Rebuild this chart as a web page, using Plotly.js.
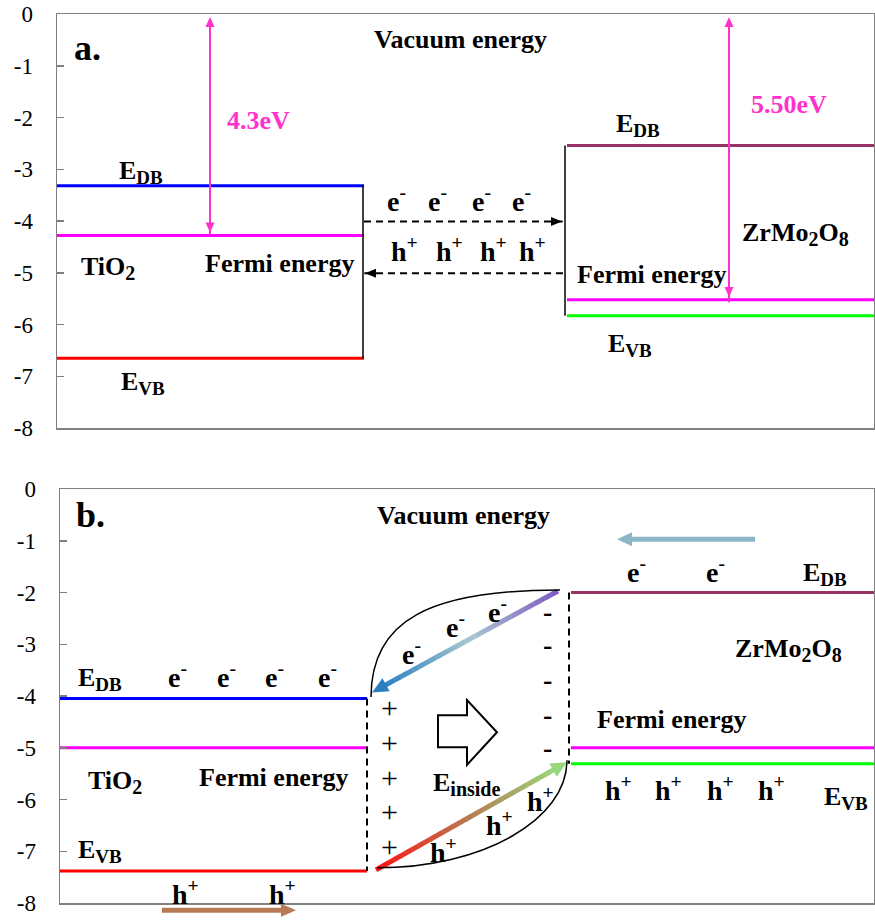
<!DOCTYPE html>
<html><head><meta charset="utf-8">
<script src="https://cdn.plot.ly/plotly-3.0.1.min.js"></script>
<style>body{margin:0;padding:0;background:#fff}#chart{width:875px;height:924px}</style>
</head><body><div id="chart"></div>
<script>
// ---------------- data ----------------
const energyTicks = [0, -1, -2, -3, -4, -5, -6, -7, -8];
const energyTickLabels = ["0", "-1", "-2", "-3", "-4", "-5", "-6", "-7", "-8"];
const levelLabels = ["E_DB", "Fermi energy", "E_VB"];
// panel a: before contact
const tio2LevelsA = [-3.32, -4.28, -6.65];
const zrmoLevelsA = [-2.54, -5.52, -5.83];
// panel b: after contact
const tio2LevelsB = [-4.05, -5.0, -7.38];
const zrmoLevelsB = [-2.0, -5.0, -5.31];
const tio2Colors = ["#0000ff", "#ff00ff", "#ff0000"];
const zrmoColors = ["#993366", "#ff00ff", "#00ff00"];
const workFunctionLabels = ["4.3eV", "5.50eV"];
// horizontal extents (x units) of each material block
const tio2SpanA = [57, 364], zrmoSpanA = [567, 874];
const tio2SpanB = [60, 367], zrmoSpanB = [571, 874];
const junctionXA = [363, 565];
const junctionXB = [367, 569];
// carrier label positions
const eXA = [396, 437, 481, 521], hXA = [404, 449, 493, 532];
const eXB_left = [177, 226, 274, 327], eXB_right = [636, 715];
const hXB_left = [185, 282], hXB_right = [618, 668, 720, 771];
const plusY = [-4.23, -4.89, -5.57, -6.23, -6.90];
const minusY = [-2.36, -3.01, -3.69, -4.35, -5.00];

// ---------------- geometry ----------------
const PW = 874, PH = 924;
const FONT = "Liberation Serif";
const P = {
  a: {xa: 'x', ya: 'y', dom: [(PH - 428) / PH, (PH - 14) / PH], x0: 57},
  b: {xa: 'x2', ya: 'y2', dom: [(PH - 903) / PH, (PH - 489) / PH], x0: 60}
};
function toPx(p, x, e) {
  const top = (1 - p.dom[1]) * PH, k = (p.dom[1] - p.dom[0]) * PH / 8;
  return [x, top - e * k];
}
function toPaper(q) { return [q[0] / PW, 1 - q[1] / PH]; }
function hex(c) { return [1, 3, 5].map(i => parseInt(c.substr(i, 2), 16)); }
function mix(stops, t) {
  if (stops.length === 1) return stops[0];
  const s = t * (stops.length - 1), i = Math.min(Math.floor(s), stops.length - 2), f = s - i;
  const a = hex(stops[i]), b = hex(stops[i + 1]);
  return 'rgb(' + a.map((v, j) => Math.round(v + (b[j] - v) * f)).join(',') + ')';
}
const shapes = [];
function head(tipPx, ux, uy, len, wid, color) {
  const bx = tipPx[0] - ux * len, by = tipPx[1] - uy * len, nx = -uy, ny = ux;
  const pts = [tipPx, [bx + nx * wid / 2, by + ny * wid / 2], [bx - nx * wid / 2, by - ny * wid / 2]].map(toPaper);
  shapes.push({type: 'path', xref: 'paper', yref: 'paper',
    path: 'M ' + pts.map(q => q[0] + ',' + q[1]).join(' L ') + ' Z',
    fillcolor: color, line: {width: 0}});
}
function arrow(p, tail, tip, o) {
  const a = toPx(p, tail[0], tail[1]), b = toPx(p, tip[0], tip[1]);
  const dx = b[0] - a[0], dy = b[1] - a[1], L = Math.hypot(dx, dy), ux = dx / L, uy = dy / L;
  let s = a.slice();
  if (o.double) { s = [a[0] + ux * o.len * 0.8, a[1] + uy * o.len * 0.8]; head(a, -ux, -uy, o.len, o.wid, o.colors[0]); }
  const e = [b[0] - ux * o.len * 0.8, b[1] - uy * o.len * 0.8];
  const N = o.colors.length > 1 ? 30 : 1;
  for (let i = 0; i < N; i++) {
    const p0 = toPaper([s[0] + (e[0] - s[0]) * i / N, s[1] + (e[1] - s[1]) * i / N]);
    const p1 = toPaper([s[0] + (e[0] - s[0]) * (i + 1.05) / N, s[1] + (e[1] - s[1]) * (i + 1.05) / N]);
    shapes.push({type: 'line', xref: 'paper', yref: 'paper', x0: p0[0], y0: p0[1], x1: p1[0], y1: p1[1],
      line: {color: mix(o.colors, (i + 0.5) / N), width: o.width, dash: o.dash || 'solid'}});
  }
  head(b, ux, uy, o.len, o.wid, o.colors[o.colors.length - 1]);
}

// ---------------- traces (energy levels) ----------------
const traces = [];
function levels(p, span, vals, cols) {
  vals.forEach((v, i) => traces.push({type: 'scatter', mode: 'lines', xaxis: p.xa, yaxis: p.ya,
    x: span, y: [v, v], line: {color: cols[i], width: 3}, hoverinfo: 'skip', showlegend: false}));
}
levels(P.a, tio2SpanA, tio2LevelsA, tio2Colors);
levels(P.a, zrmoSpanA, zrmoLevelsA, zrmoColors);
levels(P.b, tio2SpanB, tio2LevelsB, tio2Colors);
levels(P.b, zrmoSpanB, zrmoLevelsB, zrmoColors);
function vline(p, x, y0, y1, dash, w) {
  traces.push({type: 'scatter', mode: 'lines', xaxis: p.xa, yaxis: p.ya, x: [x, x], y: [y0, y1],
    line: {color: '#000', width: w, dash: dash}, hoverinfo: 'skip', showlegend: false});
}
vline(P.a, junctionXA[0], tio2LevelsA[0], tio2LevelsA[2], 'solid', 1.5);
vline(P.a, junctionXA[1], zrmoLevelsA[0], zrmoLevelsA[2], 'solid', 1.5);
vline(P.b, junctionXB[0], tio2LevelsB[0], tio2LevelsB[2], '7px,5px', 2);
vline(P.b, junctionXB[1], zrmoLevelsB[0], zrmoLevelsB[2], '7px,5px', 2);

// ---------------- arrows ----------------
const pink = '#ff33cc';
arrow(P.a, [210, -0.06], [210, -4.22], {colors: [pink], width: 2, len: 10, wid: 9, double: true});
arrow(P.a, [729, -0.06], [729, -5.47], {colors: [pink], width: 2, len: 10, wid: 9, double: true});
arrow(P.a, [364, -4.01], [562, -4.01], {colors: ['#000000'], width: 2, len: 11, wid: 9, dash: '7px,5px'});
arrow(P.a, [563, -5.01], [365, -5.01], {colors: ['#000000'], width: 2, len: 11, wid: 9, dash: '7px,5px'});
arrow(P.b, [558, -1.97], [372, -3.93], {colors: ['#7e57c2', '#a9c6cf', '#2a7fc3'], width: 5, len: 16, wid: 15});
arrow(P.b, [376, -7.36], [567, -5.28], {colors: ['#ff1010', '#b8784e', '#98d67c'], width: 5, len: 16, wid: 15});
arrow(P.b, [755, -0.97], [617, -0.97], {colors: ['#8cb6c8'], width: 5, len: 15, wid: 14});
arrow(P.b, [162, -8.14], [296, -8.14], {colors: ['#b67b56'], width: 5, len: 15, wid: 13});

// curves of band bending (panel b)
shapes.push({type: 'path', xref: 'x2', yref: 'y2', path: 'M 371,-4.02 C 371,-2.53 430,-1.95 560,-1.95', line: {color: '#000', width: 1.5}});
shapes.push({type: 'path', xref: 'x2', yref: 'y2', path: 'M 377,-7.32 C 482,-7.32 567,-6.40 567,-5.24', line: {color: '#000', width: 1.5}});
// hollow field arrow
shapes.push({type: 'path', xref: 'x2', yref: 'y2',
  path: 'M 438,-4.37 L 467,-4.37 L 467,-4.08 L 497,-4.70 L 467,-5.33 L 467,-4.99 L 438,-4.99 Z',
  fillcolor: '#fff', line: {color: '#000', width: 2}});

// ---------------- text ----------------
const ann = [];
function txt(p, x, y, t, o) {
  o = o || {};
  ann.push({xref: p.xa, yref: p.ya, x: x, y: y, text: (o.plain ? t : '<b>' + t + '</b>'), showarrow: false,
    xanchor: o.anchor || 'center', yanchor: 'middle',
    font: {family: FONT, size: o.size || 26, color: o.color || '#000'}});
}
function sub(s, px) { return '<sub><span style="font-size:' + (px || 19) + 'px">' + s + '</span></sub>'; }
const eTxt = 'e<sup>-</sup>', hTxt = 'h<sup>+</sup>';
const EDB = 'E' + sub('DB'), EVB = 'E' + sub('VB');
const TIO2 = 'TiO' + sub('2', 20), ZRMO = 'ZrMo' + sub('2', 20) + 'O' + sub('8', 20);
const CS = 28;
// panel a
txt(P.a, 87, -0.66, 'a.', {size: 36});
txt(P.a, 460, -0.50, 'Vacuum energy');
txt(P.a, 225, -2.05, workFunctionLabels[0], {anchor: 'left', color: pink});
txt(P.a, 117, -3.05, EDB, {anchor: 'left'});
txt(P.a, 79, -4.91, TIO2, {anchor: 'left'});
txt(P.a, 203, -4.83, levelLabels[1], {anchor: 'left'});
txt(P.a, 119, -7.13, EVB, {anchor: 'left'});
eXA.forEach(x => txt(P.a, x, -3.59, eTxt, {size: CS}));
hXA.forEach(x => txt(P.a, x, -4.56, hTxt, {size: CS}));
txt(P.a, 614, -2.14, EDB, {anchor: 'left'});
txt(P.a, 749, -1.74, workFunctionLabels[1], {anchor: 'left', color: pink});
txt(P.a, 740, -4.25, ZRMO, {anchor: 'left'});
txt(P.a, 575, -5.04, levelLabels[1], {anchor: 'left'});
txt(P.a, 606, -6.40, EVB, {anchor: 'left'});
// panel b
txt(P.b, 90, -0.50, 'b.', {size: 36});
txt(P.b, 463, -0.52, 'Vacuum energy');
eXB_right.forEach(x => txt(P.b, x, -1.57, eTxt, {size: CS}));
txt(P.b, 801, -1.65, EDB, {anchor: 'left'});
txt(P.b, 733, -3.12, ZRMO, {anchor: 'left'});
txt(P.b, 595, -4.46, levelLabels[1], {anchor: 'left'});
hXB_right.forEach(x => txt(P.b, x, -5.78, hTxt, {size: CS}));
txt(P.b, 822, -5.97, EVB, {anchor: 'left'});
txt(P.b, 76, -3.68, EDB, {anchor: 'left'});
eXB_left.forEach(x => txt(P.b, x, -3.60, eTxt, {size: CS}));
txt(P.b, 86, -5.66, TIO2, {anchor: 'left'});
txt(P.b, 197, -5.58, levelLabels[1], {anchor: 'left'});
txt(P.b, 76, -6.99, EVB, {anchor: 'left'});
hXB_left.forEach(x => txt(P.b, x, -7.79, hTxt, {size: CS}));
plusY.forEach(y => txt(P.b, 389, y, '+', {size: 30, plain: true}));
minusY.forEach(y => txt(P.b, 547, y, '-', {size: 28}));
txt(P.b, 431, -5.70, 'E' + sub('inside', 20), {anchor: 'left'});
[[411, -3.15], [455, -2.63], [497, -2.34]].forEach(q => txt(P.b, q[0], q[1], eTxt, {size: CS}));
[[443, -6.98], [499, -6.47], [540, -6.0]].forEach(q => txt(P.b, q[0], q[1], hTxt, {size: CS}));

// ---------------- layout ----------------
function yax(p) {
  return {domain: p.dom, range: [-8, 0], tickvals: energyTicks, ticktext: energyTickLabels,
    ticks: 'inside', ticklen: 7, tickcolor: '#808080', tickwidth: 1.5, ticklabelstandoff: 18,
    showline: true, mirror: true, linecolor: '#808080', linewidth: 1.5,
    showgrid: false, zeroline: false, fixedrange: true,
    tickfont: {family: FONT, size: 23, color: '#000'}};
}
function xax(p, anchor) {
  return {domain: [p.x0 / PW, 1], range: [p.x0, PW], anchor: anchor, showticklabels: false, ticks: '',
    showline: true, mirror: true, linecolor: '#808080', linewidth: 1.5,
    showgrid: false, zeroline: false, fixedrange: true};
}
const layout = {
  width: 875, height: 924, margin: {l: 0, r: 1, t: 0, b: 0},
  paper_bgcolor: '#fff', plot_bgcolor: '#fff', showlegend: false,
  font: {family: FONT},
  xaxis: xax(P.a, 'y'), yaxis: Object.assign(yax(P.a), {anchor: 'x'}),
  xaxis2: xax(P.b, 'y2'), yaxis2: Object.assign(yax(P.b), {anchor: 'x2'}),
  shapes: shapes, annotations: ann
};
Plotly.newPlot('chart', traces, layout, {displayModeBar: false, staticPlot: true});
</script></body></html>
